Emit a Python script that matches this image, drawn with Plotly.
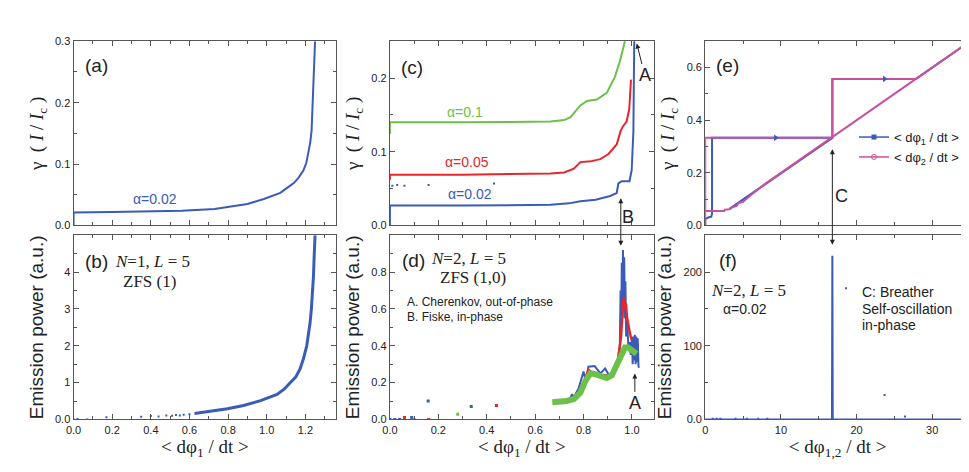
from plotly import graph_objs as go

# (a) I-V, N=1
a_x = [0, 0, 0.2, 0.4, 0.56, 0.73, 0.9, 0.985, 1.07, 1.1, 1.14, 1.165, 1.19, 1.205, 1.215, 1.225, 1.232,
       1.237, 1.241, 1.245, 1.25]
a_y = [0, 0.021, 0.022, 0.023, 0.024, 0.027, 0.035, 0.043, 0.053, 0.06, 0.069, 0.078, 0.09, 0.102, 0.117,
       0.135, 0.154, 0.19, 0.233, 0.27, 0.3]

# (b) emission power, N=1
b_x = [0.626, 0.7, 0.797, 0.88, 0.968, 1.053, 1.09, 1.12, 1.15, 1.173, 1.19, 1.207, 1.216, 1.224, 1.231,
       1.238, 1.242, 1.245, 1.25]
b_y = [0.16, 0.21, 0.29, 0.38, 0.51, 0.68, 0.82, 0.99, 1.15, 1.38, 1.65, 2.0, 2.3, 2.61, 3.0,
       3.49, 3.9, 4.37, 5.0]
b_dot_x = [0.0, 0.02, 0.07, 0.17, 0.35, 0.40, 0.44, 0.48, 0.51, 0.53, 0.55, 0.57, 0.6]
b_dot_y = [0.0, 0.01, 0.0, 0.06, 0.07, 0.09, 0.08, 0.11, 0.10, 0.12, 0.11, 0.13, 0.14]

# (c) I-V, N=2, three alphas
c_blue_x = [0, 0, 0.3, 0.664, 0.74, 0.787, 0.85, 0.91, 0.937, 0.944, 0.958, 0.99, 0.999, 1.006, 1.008, 1.01]
c_blue_y = [0, 0.027, 0.027, 0.028, 0.03, 0.033, 0.035, 0.04, 0.044, 0.057, 0.06, 0.06, 0.075, 0.128, 0.2, 0.26]
c_blue_dot_x = [0.01, 0.03, 0.06, 0.16, 0.43]
c_blue_dot_y = [0.054, 0.055, 0.054, 0.055, 0.057]
c_red_x = [0, 0, 0.3, 0.664, 0.72, 0.76, 0.787, 0.83, 0.869, 0.903, 0.937, 0.953, 0.962, 0.978, 0.989, 0.996]
c_red_y = [0.062, 0.069, 0.069, 0.0705, 0.072, 0.077, 0.086, 0.087, 0.09, 0.097, 0.11, 0.128, 0.134, 0.141, 0.158, 0.198]
c_green_x = [0, 0, 0.3, 0.664, 0.72, 0.746, 0.787, 0.814, 0.855, 0.896, 0.93, 0.951, 0.971, 0.985]
c_green_y = [0.124, 0.14, 0.14, 0.141, 0.143, 0.147, 0.163, 0.169, 0.171, 0.18, 0.202, 0.224, 0.25, 0.28]

# (d) emission power, N=2
d_blue_x = [0.70, 0.74, 0.753, 0.76, 0.78, 0.79, 0.80, 0.81, 0.82, 0.846, 0.87, 0.889, 0.91, 0.93, 0.945,
            0.950, 0.953, 0.956, 0.958, 0.961, 0.963, 0.966, 0.968, 0.971, 0.973, 0.976, 0.98, 0.985,
            0.99, 0.995, 1.0, 1.003, 1.006, 1.009, 1.012, 1.015, 1.018, 1.021, 1.024, 1.027, 1.029]
d_blue_y = [0.09, 0.1, 0.137, 0.12, 0.17, 0.22, 0.26, 0.2, 0.286, 0.29, 0.25, 0.277, 0.23, 0.26, 0.35,
            0.40, 0.7, 0.5, 0.85, 0.55, 0.92, 0.6, 0.88, 0.55, 0.75, 0.45, 0.55, 0.4,
            0.42, 0.35, 0.45, 0.3, 0.45, 0.32, 0.46, 0.3, 0.45, 0.31, 0.44, 0.29, 0.28]
d_red_x = [0.69, 0.72, 0.76, 0.787, 0.80, 0.82, 0.84, 0.87, 0.90, 0.92, 0.94, 0.955, 0.962, 0.966, 0.97,
           0.975, 0.98, 0.985, 0.99, 0.995, 1.0]
d_red_y = [0.09, 0.095, 0.11, 0.16, 0.2, 0.27, 0.25, 0.24, 0.24, 0.25, 0.3, 0.45, 0.6, 0.66, 0.6,
           0.63, 0.55, 0.5, 0.48, 0.45, 0.43]
d_green_x = [0.671, 0.70, 0.73, 0.76, 0.787, 0.807, 0.828, 0.848, 0.869, 0.896, 0.917, 0.937, 0.958, 0.971,
             0.985, 1.0, 1.019]
d_green_y = [0.093, 0.095, 0.10, 0.11, 0.146, 0.207, 0.25, 0.246, 0.233, 0.225, 0.24, 0.295, 0.37, 0.39,
             0.39, 0.375, 0.356]
d_blue_dot_x = [0.0, 0.02, 0.04, 0.09, 0.158, 0.336]
d_blue_dot_y = [0.0, 0.0, 0.0, 0.01, 0.10, 0.07]
d_red_dot_x = [0.06, 0.16, 0.44]
d_red_dot_y = [0.01, 0.0, 0.075]
d_green_dot_x = [0.1, 0.28]
d_green_dot_y = [0.0, 0.028]

# (e) I-V of both junctions, alpha=0.02
e_blue_x = [0, 0, 0.4, 0.8, 0.9, 0.9, 16.8, 16.8, 27.85, 35, None, 3.2, 16.8]
e_blue_y = [0, 0.025, 0.03, 0.033, 0.045, 0.333, 0.333, 0.557, 0.557, 0.7, None, 0.063, 0.333]
e_pink_x = [0, 0, 16.8, 16.8, 27.85, None, 0, 2.5, 2.6, 3.3, 3.5, 4.2, 4.4, 5, 6, 8, 10, 15, 20, 25, 30, 35]
e_pink_y = [0, 0.333, 0.333, 0.557, 0.557, None, 0.055, 0.055, 0.06, 0.062, 0.068, 0.075, 0.085, 0.09, 0.115,
            0.16, 0.2, 0.3, 0.4, 0.5, 0.6, 0.7]
e_arrow_x = [9.3, 23.7]
e_arrow_y = [0.333, 0.557]

# (f) emission power, alpha=0.02
f_x = [0, 16.75, 16.8, 16.85, 35]
f_y = [0, 0, 222, 0, 0]
f_dot_x = [1, 1.5, 2, 4, 5.5, 7, 8.2, 18.6, 23.7, 26.4]
f_dot_y = [1, 1, 1, 1, 1, 1, 1, 178, 33, 4]

BLUE = "#3a5bb8"
RED = "#e8262a"
GREEN = "#6cc04a"
PINK = "#c8509e"
SANS = "Liberation Sans"
SERIF = "Liberation Serif"
GAMMA = "γ  ( <i>I</i> / <i>I</i><sub>c</sub> )"
EMIT = "Emission power (a.u.)"


def axis(domain, rng, anchor, minor_dtick, **kw):
    base = dict(
        domain=domain, range=rng, anchor=anchor, showline=True, linecolor="#555", linewidth=1.2,
        mirror="ticks", ticks="inside", ticklen=5, tickcolor="#555", showgrid=False, zeroline=False,
        tickfont=dict(family=SANS, size=11, color="#222"),
        minor=dict(ticks="inside", ticklen=3, dtick=minor_dtick, tickcolor="#555"),
    )
    base.update(kw)
    return base


def line(x, y, ax, color, width=2):
    return go.Scatter(x=x, y=y, xaxis="x" + ax, yaxis="y" + ax, mode="lines",
                      line=dict(color=color, width=width), showlegend=False)


def dots(x, y, ax, color, size=3):
    return go.Scatter(x=x, y=y, xaxis="x" + ax, yaxis="y" + ax, mode="markers",
                      marker=dict(color=color, size=size, symbol="square"), showlegend=False)


fig = go.Figure()
fig.add_trace(line(a_x, a_y, "", BLUE))
fig.add_trace(line(b_x, b_y, "2", BLUE, 3))
fig.add_trace(dots(b_dot_x, b_dot_y, "2", BLUE, 2))
fig.add_trace(line(c_blue_x, c_blue_y, "3", BLUE))
fig.add_trace(dots(c_blue_dot_x, c_blue_dot_y, "3", BLUE, 2))
fig.add_trace(line(c_red_x, c_red_y, "3", RED))
fig.add_trace(line(c_green_x, c_green_y, "3", GREEN))
fig.add_trace(line(d_blue_x, d_blue_y, "4", BLUE, 2))
fig.add_trace(line(d_red_x, d_red_y, "4", RED, 2.5))
fig.add_trace(line(d_green_x, d_green_y, "4", GREEN, 6))
fig.add_trace(dots(d_blue_dot_x, d_blue_dot_y, "4", BLUE))
fig.add_trace(dots(d_red_dot_x, d_red_dot_y, "4", RED))
fig.add_trace(dots(d_green_dot_x, d_green_dot_y, "4", GREEN))
fig.add_trace(line(e_blue_x, e_blue_y, "5", BLUE, 2))
fig.add_trace(line(e_pink_x, e_pink_y, "5", PINK, 2))
fig.add_trace(go.Scatter(x=e_arrow_x, y=e_arrow_y, xaxis="x5", yaxis="y5", mode="markers",
                         marker=dict(color=BLUE, size=6, symbol="triangle-right"), showlegend=False))
fig.add_trace(line(f_x, f_y, "6", BLUE, 2))
fig.add_trace(dots(f_dot_x, f_dot_y, "6", BLUE, 2))
fig.add_trace(go.Scatter(x=[None], y=[None], xaxis="x5", yaxis="y5", mode="lines+markers",
                         name="< dφ<sub>1</sub> / dt >", line=dict(color=BLUE, width=1.5),
                         marker=dict(symbol="square", size=5, color=BLUE)))
fig.add_trace(go.Scatter(x=[None], y=[None], xaxis="x5", yaxis="y5", mode="lines+markers",
                         name="< dφ<sub>2</sub> / dt >", line=dict(color=PINK, width=1.5),
                         marker=dict(symbol="circle-open", size=5, color=PINK)))

col1, col2, col3 = [0.0599, 0.3333], [0.3891, 0.6636], [0.7172, 0.9928]
top, bot = [0.5403, 0.9407], [0.1186, 0.5191]
xtitle = dict(font=dict(family=SERIF, size=19, color="#222"), standoff=0)
ytitle_s = dict(font=dict(family=SANS, size=19, color="#222"), standoff=6)
ytitle_g = dict(font=dict(family=SERIF, size=19, color="#222"), standoff=6)

fig.update_layout(
    width=969, height=472, margin=dict(l=0, r=0, t=0, b=0),
    plot_bgcolor="white", paper_bgcolor="white",
    xaxis=axis(col1, [0, 1.36], "y", 0.1, dtick=0.2, showticklabels=False),
    yaxis=axis(top, [0, 0.3], "x", 0.05, dtick=0.1, tickformat=".1f", title=dict(text=GAMMA, **ytitle_g)),
    xaxis2=axis(col1, [0, 1.36], "y2", 0.1, dtick=0.2, tickformat=".1f",
                title=dict(text="< dφ<sub>1</sub> / dt >", **xtitle)),
    yaxis2=axis(bot, [0, 5], "x2", 0.5, tickvals=[0, 1, 2, 3, 4], ticktext=["0.0", "1", "2", "3", "4"],
                title=dict(text=EMIT, **ytitle_s)),
    xaxis3=axis(col2, [0, 1.09], "y3", 0.1, dtick=0.2, showticklabels=False),
    yaxis3=axis(top, [0, 0.25], "x3", 0.05, dtick=0.1, tickformat=".1f", title=dict(text=GAMMA, **ytitle_g)),
    xaxis4=axis(col2, [0, 1.09], "y4", 0.1, dtick=0.2, tickformat=".1f",
                title=dict(text="< dφ<sub>1</sub> / dt >", **xtitle)),
    yaxis4=axis(bot, [0, 1.0], "x4", 0.1, tickvals=[0, 0.2, 0.4, 0.6, 0.8],
                ticktext=["0.0", "0.2", "0.4", "0.6", "0.8"], title=dict(text=EMIT, **ytitle_s)),
    xaxis5=axis(col3, [0, 35], "y5", 5, dtick=10, showticklabels=False),
    yaxis5=axis(top, [0, 0.7], "x5", 0.1, dtick=0.2, tickformat=".1f", title=dict(text=GAMMA, **ytitle_g)),
    xaxis6=axis(col3, [0, 35], "y6", 5, dtick=10, title=dict(text="< dφ<sub>1,2</sub> / dt >", **xtitle)),
    yaxis6=axis(bot, [0, 250], "x6", 50, tickvals=[0, 100, 200], ticktext=["0.0", "100", "200"],
                title=dict(text=EMIT, **ytitle_s)),
    legend=dict(x=0.872, y=0.765, xanchor="left", yanchor="top", bgcolor="rgba(0,0,0,0)",
                font=dict(family=SANS, size=13, color="#222"), tracegroupgap=0, itemwidth=30),
)


def text(ax, x, y, s, size=18, color="#222", family=SANS, **kw):
    fig.add_annotation(xref="x" + ax, yref="y" + ax, x=x, y=y, text=s, showarrow=False,
                       font=dict(family=family, size=size, color=color), **kw)


text("", 0.12, 0.26, "(a)", 19)
text("", 0.42, 0.043, "α=0.02", 14, BLUE)
text("2", 0.12, 4.29, "(b)", 19)
text("2", 0.41, 4.29, "<i>N</i>=1, <i>L</i> = 5", 17, family=SERIF)
text("2", 0.395, 3.75, "ZFS (1)", 17, family=SERIF)
text("3", 0.09, 0.215, "(c)", 19)
text("3", 0.31, 0.154, "α=0.1", 14, GREEN)
text("3", 0.32, 0.086, "α=0.05", 14, RED)
text("3", 0.33, 0.043, "α=0.02", 14, BLUE)
text("3", 0.985, 0.012, "B", 18)
text("4", 0.097, 0.865, "(d)", 19)
text("4", 0.323, 0.874, "<i>N</i>=2, <i>L</i> = 5", 17, family=SERIF)
text("4", 0.343, 0.768, "ZFS (1,0)", 17, family=SERIF)
text("4", 0.063, 0.637, "A. Cherenkov, out-of-phase", 12, xanchor="left")
text("4", 0.063, 0.558, "B. Fiske, in-phase", 12, xanchor="left")
text("5", 2.96, 0.609, "(e)", 19)
text("5", 18.0, 0.112, "C", 18)
text("6", 3.05, 216, "(f)", 19)
text("6", 5.7, 175, "<i>N</i>=2, <i>L</i> = 5", 17, family=SERIF)
text("6", 5.2, 150, "α=0.02", 14)
text("6", 20.5, 173, "C: Breather", 14, xanchor="left")
text("6", 20.5, 150, "Self-oscillation", 14, xanchor="left")
text("6", 20.5, 128, "in-phase", 14, xanchor="left")

arrow = dict(showarrow=True, arrowcolor="#222", arrowwidth=1, arrowsize=1, arrowhead=2)
fig.add_annotation(xref="x3", yref="y3", x=1.02, y=0.247, ax=8, ay=32, text="A",
                   font=dict(family=SANS, size=18, color="#222"), **arrow)
fig.add_annotation(xref="x4", yref="y4", x=1.012, y=0.25, ax=0, ay=30, text="A",
                   font=dict(family=SANS, size=18, color="#222"), **arrow)
fig.add_annotation(xref="x3", yref="y3", x=0.954, y=0.037, ax=0, ay=49, text="",
                   arrowside="end+start", startarrowhead=2, **arrow)
fig.add_annotation(xref="x5", yref="y5", x=16.8, y=0.29, ax=0, ay=97, text="",
                   arrowside="end+start", startarrowhead=2, **arrow)

fig.write_html("out.html")
